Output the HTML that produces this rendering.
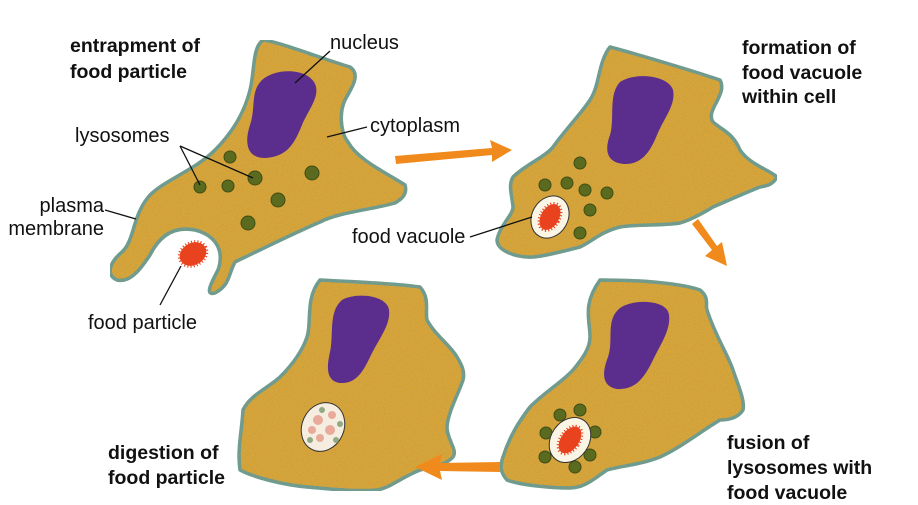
<!DOCTYPE html>
<html><head><meta charset="utf-8"><style>
html,body{margin:0;padding:0;background:#fff;}
svg text{font-family:"Liberation Sans",Arial,sans-serif;fill:#111;}
.b{font-weight:bold;font-size:19.5px;}
.n{font-size:20px;}
</style></head><body>
<svg width="918" height="500" viewBox="0 0 918 500" xmlns="http://www.w3.org/2000/svg">
<defs>
<filter id="tex" x="0" y="0" width="100%" height="100%">
<feTurbulence type="fractalNoise" baseFrequency="0.9" numOctaves="2" result="n"/>
<feColorMatrix in="n" type="matrix" values="0 0 0 0 0.45  0 0 0 0 0.3  0 0 0 0 0.05  0 0 0 -1.2 0.75" result="d"/>
<feComposite in="d" in2="SourceGraphic" operator="in" result="dd"/>
<feMerge><feMergeNode in="SourceGraphic"/><feMergeNode in="dd"/></feMerge>
</filter>
</defs>
<g fill="#d9a63b" stroke="#5e9c98" stroke-width="3.5" stroke-linejoin="round" filter="url(#tex)">
<path d="M263,40 C280,42 320,58 350,67 C362,75 350,90 345,100 C338,115 342,135 348,142 C358,160 385,172 405,185 C408,195 400,200 395,203 C370,210 340,212 320,222 C290,235 260,250 235,262 C228,275 230,285 215,293 C205,296 210,285 218,270 C225,250 215,235 195,230 C175,226 160,235 150,255 C140,270 130,283 117,280 C105,275 110,262 122,252 C135,240 132,215 150,195 C165,180 195,170 215,150 C235,130 245,110 250,90 C255,70 252,48 263,40 Z"/>
<path d="M610,47 C640,55 690,70 720,80 C728,95 705,110 713,122 C722,130 733,133 740,150 C750,165 770,170 777,177 C772,186 765,186 760,187 C740,195 725,202 713,207 C700,215 690,220 680,223 C660,226 640,224 620,227 C600,232 590,243 580,247 C560,252 545,256 533,257 C515,258 497,250 497,240 C500,225 513,215 513,207 C512,195 508,185 513,177 C525,165 545,157 553,147 C565,130 580,115 590,100 C600,85 598,62 610,47 Z"/>
<path d="M600,280 C640,280 680,283 700,290 C710,298 705,305 707,310 C715,335 728,355 733,370 C738,385 745,400 743,410 C738,418 728,420 720,420 C700,432 680,448 660,457 C640,465 620,466 607,470 C595,478 585,488 570,488 C550,488 520,485 507,480 C500,472 500,465 503,457 C510,435 520,420 530,407 C545,392 562,382 573,370 C583,358 590,348 590,337 C590,320 582,305 600,280 Z"/>
<path d="M320,280 C360,282 400,284 420,287 C430,298 425,310 427,320 C435,335 450,345 457,357 C462,365 465,372 463,380 C458,395 448,412 447,427 C447,440 458,450 453,457 C445,466 430,467 420,470 C400,478 390,488 377,490 C355,492 330,489 307,487 C285,485 255,478 240,470 C237,450 242,430 243,410 C250,395 268,388 280,377 C292,365 302,352 307,337 C312,322 305,298 320,280 Z"/>
</g>
<g fill="#5b2d8c">
<path d="M262,80 C275,68 305,68 314,82 C322,95 308,110 302,125 C295,142 288,157 265,158 C245,158 245,140 250,125 C256,108 250,92 262,80 Z"/>
<path d="M620,82 C635,72 668,75 673,90 C676,105 664,118 657,135 C650,152 642,164 625,164 C605,163 605,148 610,135 C615,118 608,95 620,82 Z"/>
<path d="M620,308 C635,298 668,300 669,315 C671,330 660,345 652,362 C643,380 634,390 617,389 C600,386 603,370 608,357 C614,340 605,320 620,308 Z"/>
<path d="M342,300 C356,292 387,295 389,310 C391,325 378,340 371,355 C363,372 356,384 340,383 C325,381 327,365 330,352 C334,335 328,312 342,300 Z"/>
</g>
<g fill="#5a6b1f" stroke="#3f4d14" stroke-width="1">
<circle cx="230" cy="157" r="6"/><circle cx="200" cy="187" r="6"/><circle cx="228" cy="186" r="6"/><circle cx="255" cy="178" r="7"/><circle cx="312" cy="173" r="7"/><circle cx="278" cy="200" r="7"/><circle cx="248" cy="223" r="7"/>
<circle cx="580" cy="163" r="6"/><circle cx="545" cy="185" r="6"/><circle cx="567" cy="183" r="6"/><circle cx="585" cy="190" r="6"/><circle cx="607" cy="193" r="6"/><circle cx="590" cy="210" r="6"/><circle cx="580" cy="233" r="6"/>
<circle cx="560" cy="415" r="6"/><circle cx="580" cy="410" r="6"/><circle cx="595" cy="432" r="6"/><circle cx="590" cy="455" r="6"/><circle cx="575" cy="467" r="6"/><circle cx="545" cy="457" r="6"/><circle cx="546" cy="433" r="6"/>
</g>
<ellipse cx="193" cy="254" rx="14" ry="11" transform="rotate(-30 193 254)" fill="#e8421f" stroke="#e8421f" stroke-width="4" stroke-dasharray="1 2"/>
<ellipse cx="550" cy="217" rx="18" ry="22" transform="rotate(30 550 217)" fill="#fbf5e6" stroke="#333" stroke-width="1"/>
<ellipse cx="550" cy="217" rx="9" ry="14" transform="rotate(30 550 217)" fill="#e8421f" stroke="#e8421f" stroke-width="4" stroke-dasharray="1 2"/>
<ellipse cx="570" cy="440" rx="19" ry="24" transform="rotate(35 570 440)" fill="#fbf5e6" stroke="#333" stroke-width="1"/>
<ellipse cx="570" cy="440" rx="9" ry="15" transform="rotate(35 570 440)" fill="#e8421f" stroke="#e8421f" stroke-width="4" stroke-dasharray="1 2"/>
<ellipse cx="323" cy="427" rx="21" ry="25" transform="rotate(25 323 427)" fill="#f5ede0" stroke="#333" stroke-width="1"/>
<g fill="#e79a8a" opacity="0.8"><circle cx="318" cy="420" r="5"/><circle cx="330" cy="430" r="5"/><circle cx="320" cy="438" r="4"/><circle cx="332" cy="415" r="4"/><circle cx="312" cy="430" r="4"/></g>
<g fill="#7a9a6a" opacity="0.8"><circle cx="322" cy="410" r="3"/><circle cx="310" cy="440" r="3"/><circle cx="336" cy="440" r="3"/><circle cx="340" cy="424" r="3"/></g>
<g fill="#f08a1c" stroke="none">
<path d="M395,156 L492,148 L490,140 L512,150 L492,162 L492,155 L396,164 Z"/>
<path d="M692,224 L712,250 L705,256 L727,266 L722,242 L717,246 L698,219 Z"/>
<path d="M500,462 L440,463 L442,454 L415,467 L442,480 L440,471 L500,472 Z"/>
</g>
<g stroke="#111" stroke-width="1.3" fill="none">
<line x1="330" y1="51" x2="295" y2="83"/>
<line x1="367" y1="127" x2="327" y2="137"/>
<line x1="180" y1="146" x2="200" y2="185"/>
<line x1="180" y1="146" x2="253" y2="178"/>
<line x1="105" y1="210" x2="136" y2="219"/>
<line x1="160" y1="305" x2="181" y2="266"/>
<line x1="470" y1="237" x2="532" y2="217"/>
</g>
<text class="b" x="70" y="52">entrapment of</text>
<text class="b" x="70" y="78">food particle</text>
<text class="n" x="330" y="49">nucleus</text>
<text class="n" x="370" y="132">cytoplasm</text>
<text class="n" x="75" y="142">lysosomes</text>
<text class="n" x="104" y="212" text-anchor="end">plasma</text>
<text class="n" x="104" y="235" text-anchor="end">membrane</text>
<text class="n" x="88" y="329">food particle</text>
<text class="b" x="742" y="54">formation of</text>
<text class="b" x="742" y="79">food vacuole</text>
<text class="b" x="742" y="103">within cell</text>
<text class="n" x="352" y="243">food vacuole</text>
<text class="b" x="108" y="459">digestion of</text>
<text class="b" x="108" y="484">food particle</text>
<text class="b" x="727" y="449">fusion of</text>
<text class="b" x="727" y="474">lysosomes with</text>
<text class="b" x="727" y="499">food vacuole</text>
</svg>
</body></html>
